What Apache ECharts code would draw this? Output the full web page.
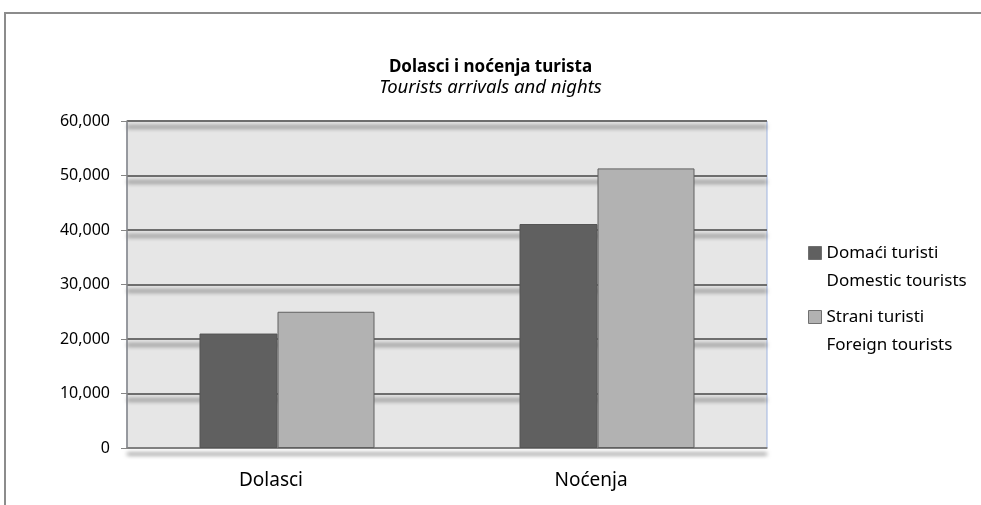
<!DOCTYPE html>
<html>
<head>
<meta charset="utf-8">
<script src="https://cdn.jsdelivr.net/npm/echarts@6/dist/echarts.min.js"></script>
<style>
  html, body { margin: 0; padding: 0; background: #fff; }
  #chart { width: 981px; height: 505px; }
</style>
</head>
<body>
<div id="chart"></div>
<script>
// categories and values
const categories = ['Dolasci', 'Noćenja'];
const domestic = [21000, 41100];
const foreign = [25000, 51300];
const seriesNames = ['Domaći turisti', 'Strani turisti'];
const seriesNamesEn = ['Domestic tourists', 'Foreign tourists'];

const chart = echarts.init(document.getElementById('chart'));
const font = 'Noto Sans';

// one legend per series so the icon can sit on the first text line
function legendFor(i, top) {
  return {
    data: [seriesNames[i]],
    left: 803,
    top: top,
    icon: 'rect',
    itemWidth: 13,
    itemHeight: 13,
    itemGap: 0,
    itemStyle: { borderColor: '#707070', borderWidth: 1 },
    // leading blank line shifts the text block so line 1 lines up with the icon
    formatter: name => ' \n' + name + '\n' + seriesNamesEn[i],
    textStyle: { fontFamily: font, fontSize: 17, color: '#000', lineHeight: 28 },
    selectedMode: false
  };
}

const option = {
  animation: false,
  title: {
    text: 'Dolasci i noćenja turista',
    subtext: 'Tourists arrivals and nights',
    left: 'center',
    top: 54,
    itemGap: 2,
    textStyle: { fontFamily: font, fontSize: 17, fontWeight: 'bold', color: '#000' },
    subtextStyle: { fontFamily: font, fontSize: 18.5, fontStyle: 'italic', color: '#000' }
  },
  legend: [legendFor(0, 206), legendFor(1, 270)],
  grid: {
    left: 127, right: 214, top: 121, bottom: 57,
    show: true,
    backgroundColor: '#e6e6e6',
    borderColor: '#9fb4e0',
    borderWidth: 1
  },
  xAxis: {
    type: 'category',
    data: categories,
    axisTick: { show: false },
    axisLine: { lineStyle: { color: '#868686', width: 1.5 } },
    axisLabel: {
      fontFamily: font, fontSize: 19, color: '#000', margin: 23,
      padding: [0, 32, 0, 0]
    }
  },
  yAxis: {
    type: 'value',
    min: 0,
    max: 60000,
    interval: 10000,
    axisLine: { show: true, lineStyle: { color: '#868686', width: 1.5 } },
    axisTick: { show: true, inside: false, length: 6, lineStyle: { color: '#868686' } },
    axisLabel: {
      fontFamily: font, fontSize: 16, color: '#000', margin: 17,
      formatter: v => v.toLocaleString('en-US')
    },
    splitLine: {
      lineStyle: {
        color: '#6e6e6e', width: 2,
        shadowColor: 'rgba(0,0,0,0.6)', shadowBlur: 4, shadowOffsetY: 6
      }
    }
  },
  series: [
    {
      name: seriesNames[0],
      type: 'bar',
      data: domestic,
      barWidth: 78,
      barGap: '0%',
      itemStyle: { color: '#606060', borderColor: '#555', borderWidth: 1 }
    },
    {
      name: seriesNames[1],
      type: 'bar',
      data: foreign,
      barWidth: 97,
      barGap: '0%',
      itemStyle: { color: '#b2b2b2', borderColor: '#606060', borderWidth: 1 }
    }
  ],
  graphic: [{
    type: 'rect',
    silent: true,
    z: -1,
    shape: { x: 5, y: 13, width: 1100, height: 600 },
    style: { fill: 'none', stroke: '#8c8c8c', lineWidth: 2 }
  }]
};

chart.setOption(option);
</script>
</body>
</html>
